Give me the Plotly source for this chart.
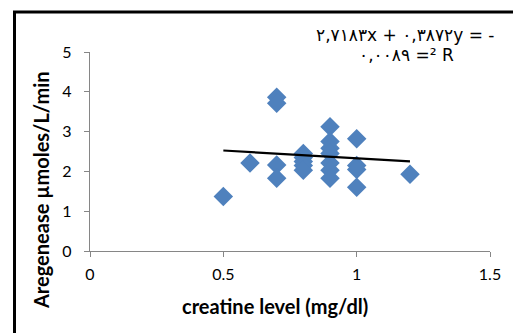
import plotly.graph_objects as go

# Data
creatine = [0.5, 0.6, 0.7, 0.7, 0.7, 0.7,
            0.8, 0.8, 0.8, 0.8, 0.8,
            0.9, 0.9, 0.9, 0.9, 0.9, 0.9, 0.9,
            1.0, 1.0, 1.0, 1.0, 1.2]
arginase = [1.37, 2.21, 3.86, 3.71, 2.16, 1.83,
            2.45, 2.35, 2.25, 2.15, 2.03,
            3.12, 2.75, 2.58, 2.45, 2.21, 2.03, 1.83,
            2.82, 2.15, 2.05, 1.60, 1.93]

slope = -0.3872
intercept = 2.7183
trend_x = [0.5, 1.2]
trend_y = [slope * v + intercept for v in trend_x]

eq_line1 = "٢,٧١٨٣x + ٠,٣٨٧٢y = -"
eq_line2 = "٠,٠٠٨٩ =² R"
x_title = "creatine level (mg/dl)"
y_title = "Aregenease µmoles/L/min"

x_ticks = [0, 0.5, 1, 1.5]
y_ticks = [0, 1, 2, 3, 4, 5]

W, H = 513, 333
L, R, T, B = 90, 23, 52, 82
FONT = "Lato, Open Sans, DejaVu Sans"

fig = go.Figure()
fig.add_trace(go.Scatter(
    x=creatine, y=arginase, mode="markers",
    marker=dict(symbol="diamond", size=15, color="#4F81BD",
                line=dict(width=0)),
    showlegend=False, hoverinfo="skip"))
fig.add_trace(go.Scatter(
    x=trend_x, y=trend_y, mode="lines",
    line=dict(color="black", width=2.2),
    showlegend=False, hoverinfo="skip"))

axis_common = dict(
    showgrid=False, zeroline=False, showline=True, linecolor="#868686",
    linewidth=1.3, ticks="outside", tickcolor="#868686", ticklen=5,
    tickfont=dict(family=FONT, size=16, color="black"),
)

fig.update_xaxes(range=[0, 1.5], tickvals=x_ticks, ticktext=[str(v) for v in x_ticks],
                 ticklabelstandoff=4, **axis_common)
fig.update_yaxes(range=[0, 5], tickvals=y_ticks, ticktext=[str(v) for v in y_ticks],
                 ticklabelstandoff=9, **axis_common)

pw = W - L - R
ph = H - T - B
def px(xp):
    return (xp - L) / pw
def py(yp):
    return (H - B - yp) / ph

title_font = dict(family=FONT, size=20, color="black", weight="bold")
fig.add_annotation(x=px(275), y=py(306), xref="paper", yref="paper", text=x_title,
                   showarrow=False, xanchor="center", yanchor="middle", font=title_font)
fig.add_annotation(x=px(41), y=py(190), xref="paper", yref="paper", text=y_title,
                   textangle=-90, showarrow=False, xanchor="center", yanchor="middle",
                   font=title_font)

fig.add_annotation(x=px(405), y=py(35), xref="paper", yref="paper", text=eq_line1,
                   showarrow=False, xanchor="center", yanchor="middle",
                   font=dict(family="DejaVu Sans", size=17, color="black"))
fig.add_annotation(x=px(406), y=py(55), xref="paper", yref="paper", text=eq_line2,
                   showarrow=False, xanchor="center", yanchor="middle",
                   font=dict(family="DejaVu Sans", size=17, color="black"))

# Outer black frame (left and top edges visible)
fig.add_shape(type="line", xref="paper", yref="paper", x0=px(14.5), x1=px(14.5), y0=py(11), y1=py(340),
              line=dict(color="black", width=3))
fig.add_shape(type="line", xref="paper", yref="paper", x0=px(13), x1=px(520), y0=py(12), y1=py(12),
              line=dict(color="black", width=3))

fig.update_layout(
    width=W, height=H,
    margin=dict(l=L, r=R, t=T, b=B),
    paper_bgcolor="white", plot_bgcolor="white",
)

fig.write_html("out.html")
